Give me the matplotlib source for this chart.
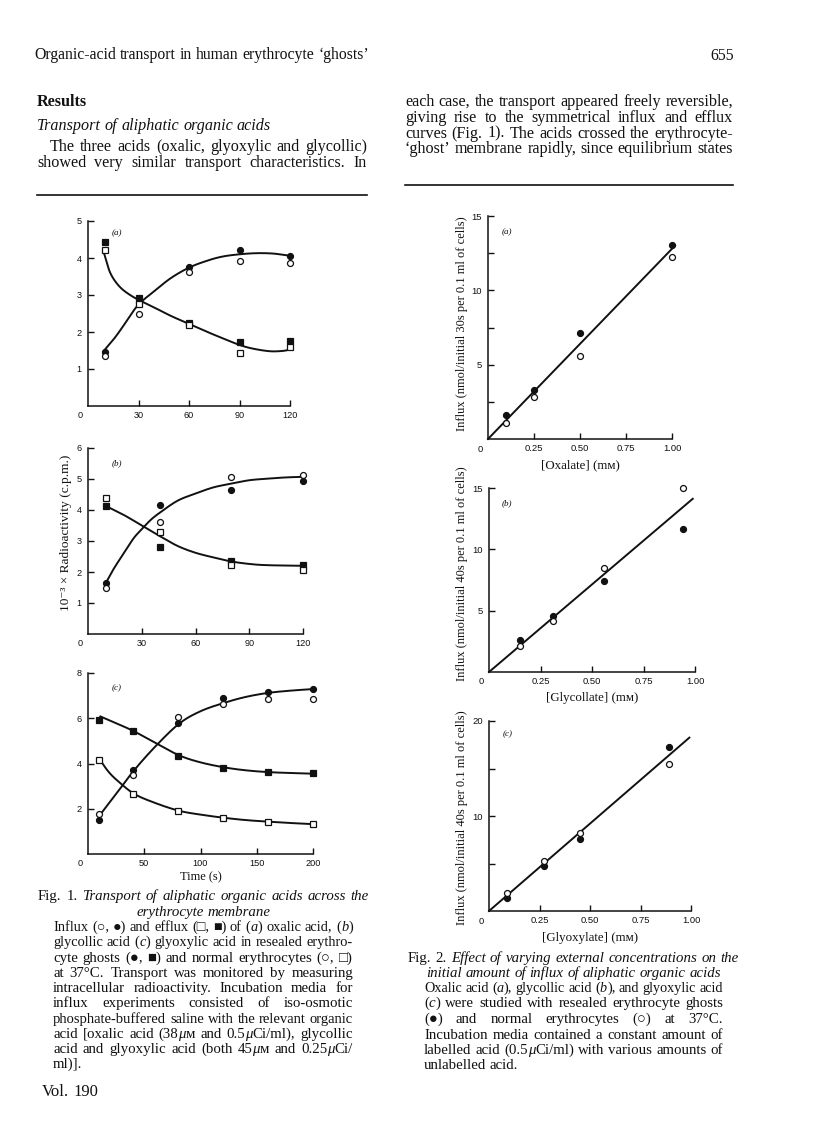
import math
import matplotlib
matplotlib.use('Agg')
import matplotlib.pyplot as plt
import matplotlib.transforms as mtransforms
import numpy as np

# ---------------- data ----------------
# Fig. 1 (a) oxalic acid
f1a_t = [10, 30, 60, 90, 120]
f1a_in_ghost = [1.47, 2.78, 3.75, 4.22, 4.06]
f1a_in_norm = [1.34, 2.48, 3.61, 3.92, 3.87]
f1a_ef_ghost = [4.43, 2.92, 2.24, 1.72, 1.76]
f1a_ef_norm = [4.21, 2.75, 2.18, 1.43, 1.59]
f1a_cin_t = [9, 15, 20, 25, 29, 33, 39, 49, 60, 71, 80, 90, 100, 110, 120]
f1a_cin_v = [1.47, 1.79, 2.10, 2.44, 2.69, 2.87, 3.09, 3.45, 3.74, 3.93, 4.04, 4.10, 4.13, 4.12, 4.06]
f1a_cef_t = [9, 11, 13, 16, 20, 25, 30, 39, 49, 60, 71, 80, 90, 98, 108, 116, 120]
f1a_cef_v = [4.21, 3.90, 3.62, 3.38, 3.17, 3.00, 2.87, 2.67, 2.44, 2.22, 2.00, 1.83, 1.65, 1.55, 1.48, 1.49, 1.53]

# Fig. 1 (b) glycollic acid
f1b_t = [10, 40, 80, 120]
f1b_in_ghost = [1.65, 4.16, 4.64, 4.93]
f1b_in_norm = [1.50, 3.60, 5.07, 5.12]
f1b_ef_ghost = [4.13, 2.80, 2.36, 2.23]
f1b_ef_norm = [4.40, 3.29, 2.21, 2.07]
f1b_cin_t = [10, 14, 20, 25.5, 30, 35, 40, 50, 60, 70, 80, 90, 100, 110, 120]
f1b_cin_v = [1.65, 2.07, 2.61, 3.09, 3.38, 3.68, 3.91, 4.30, 4.53, 4.73, 4.85, 4.96, 5.01, 5.05, 5.07]
f1b_cef_t = [10, 20, 30, 40, 50, 60, 70, 80, 90, 100, 120]
f1b_cef_v = [4.13, 3.84, 3.50, 3.16, 2.84, 2.62, 2.47, 2.34, 2.26, 2.22, 2.20]

# Fig. 1 (c) glyoxylic acid
f1c_t = [10, 40, 80, 120, 160, 200]
f1c_in_ghost = [1.50, 3.70, 5.78, 6.90, 7.16, 7.29]
f1c_in_norm = [1.75, 3.48, 6.06, 6.63, 6.87, 6.85]
f1c_ef_ghost = [5.91, 5.45, 4.32, 3.81, 3.62, 3.58]
f1c_ef_norm = [4.14, 2.63, 1.90, 1.60, 1.43, 1.32]
f1c_cin_t = [11, 26, 41, 60, 81, 100, 121, 140, 160, 180, 200]
f1c_cin_v = [1.75, 2.72, 3.70, 4.76, 5.76, 6.31, 6.68, 6.94, 7.12, 7.22, 7.29]
f1c_cefg_t = [11, 26, 41, 60, 81, 100, 121, 140, 160, 180, 200]
f1c_cefg_v = [6.08, 5.76, 5.42, 4.91, 4.36, 4.05, 3.83, 3.70, 3.62, 3.58, 3.55]
f1c_cefn_t = [11, 18, 26, 41, 60, 81, 100, 121, 140, 160, 180, 200]
f1c_cefn_v = [4.14, 3.65, 3.25, 2.66, 2.25, 1.91, 1.74, 1.60, 1.50, 1.43, 1.37, 1.32]

# Fig. 2 (a) oxalate
f2a_conc = [0.10, 0.25, 0.50, 1.00]
f2a_ghost = [1.63, 3.31, 7.16, 13.05]
f2a_norm = [1.07, 2.82, 5.55, 12.22]
f2a_fit_x = [0.0, 1.016]
f2a_fit_y = [0.0, 13.0]
# Fig. 2 (b) glycollate
f2b_conc = [0.15, 0.31, 0.56, 0.94]
f2b_ghost = [2.61, 4.58, 7.44, 11.62]
f2b_norm = [2.13, 4.12, 8.46, 14.99]
f2b_fit_x = [0.0, 0.989]
f2b_fit_y = [0.0, 14.12]
# Fig. 2 (c) glyoxylate
f2c_conc = [0.09, 0.27, 0.45, 0.89]
f2c_ghost = [1.33, 4.72, 7.62, 17.31]
f2c_norm = [1.92, 5.28, 8.22, 15.52]
f2c_fit_x = [0.0, 0.992]
f2c_fit_y = [0.0, 18.25]

# ---------------- figure ----------------
W, H = 816, 1136
fig = plt.figure(figsize=(W / 100, H / 100), dpi=100)
fig.patch.set_facecolor('white')
R = fig.canvas.get_renderer()

SERIF = ['Liberation Serif', 'DejaVu Serif']
SANS = ['Liberation Sans', 'DejaVu Sans']
INK = '#111111'


def px(x, y):
    return x / W, 1 - y / H


def parse(line):
    words, cur, buf = [], [], ''
    it = bd = False
    for ch in line:
        if ch in '*#' or ch == ' ':
            if buf:
                cur.append((buf, it, bd))
                buf = ''
            if ch == '*':
                it = not it
            elif ch == '#':
                bd = not bd
            else:
                if cur:
                    words.append(cur)
                    cur = []
        else:
            buf += ch
    if buf:
        cur.append((buf, it, bd))
    if cur:
        words.append(cur)
    return words


def mk(s, size, it, bd, x=0, y=0, **kw):
    return fig.text(x, y, s, fontsize=size, family=SERIF,
                    style='italic' if it else 'normal',
                    weight='bold' if bd else 'normal', color=INK, **kw)


def width(s, size, it=False, bd=False):
    t = mk(s, size, it, bd)
    w = t.get_window_extent(renderer=R).width
    t.remove()
    return w


def place(s, size, it, bd, x, base_top):
    """put a text segment with its baseline on an integer pixel row"""
    t = mk(s, size, it, bd, va='baseline', ha='left')
    _, _, d = R.get_text_width_height_descent(s, t.get_fontproperties(), ismath=False)
    frac = d - math.floor(d)
    Y = round(base_top)
    t.set_position((x / W, (H - (Y - frac)) / H))
    return t


def natural_width(text, size):
    words = parse(text)
    ww = [sum(width(s, size, i, b) for s, i, b in w) for w in words]
    sp = width('n n', size) - width('nn', size)
    return sum(ww) + sp * (len(words) - 1)


def line(text, x0, x1, y, size, mode='justify'):
    words = parse(text)
    if mode == 'fit':
        size = size * (x1 - x0) / natural_width(text, size)
        mode = 'left'
    elif mode == 'justify':
        nat = natural_width(text, size)
        if nat > (x1 - x0) * 0.995:
            size = size * (x1 - x0) * 0.995 / nat
    ww = [sum(width(s, size, i, b) for s, i, b in w) for w in words]
    sp = width('n n', size) - width('nn', size)
    natural = sum(ww) + sp * (len(words) - 1)
    if mode == 'justify' and len(words) > 1:
        gap = (x1 - x0 - sum(ww)) / (len(words) - 1)
        start = x0
    else:
        gap = sp
        if mode == 'left':
            start = x0
        elif mode == 'right':
            start = x1 - natural
        else:
            start = (x0 + x1) / 2 - natural / 2
    base = y + 0.30 * size * 100 / 72
    x = start
    for w, wdt in zip(words, ww):
        xx = x
        for s, i, b in w:
            place(s, size, i, b, xx, base)
            xx += width(s, size, i, b)
        x += wdt + gap
    return size


def para_size(items, q=35, slack=0.985):
    sizes = [10 * (x1 - x0) / natural_width(t, 10) for t, x0, x1 in items]
    return float(np.percentile(sizes, q)) * slack


def rule(x0, x1, y, lw=1.2):
    fig.add_artist(plt.Line2D([x0 / W, x1 / W], [1 - y / H, 1 - y / H],
                              transform=fig.transFigure, color=INK, lw=lw))


def smooth(xs, ys, n=16):
    P = np.column_stack([np.asarray(xs, float), np.asarray(ys, float)])
    P = np.vstack([2 * P[0] - P[1], P, 2 * P[-1] - P[-2]])
    out = []
    t = np.linspace(0, 1, n, endpoint=False)[:, None]
    for i in range(1, len(P) - 2):
        p0, p1, p2, p3 = P[i - 1], P[i], P[i + 1], P[i + 2]
        out.append(0.5 * (2 * p1 + (-p0 + p2) * t + (2 * p0 - 5 * p1 + 4 * p2 - p3) * t ** 2
                          + (-p0 + 3 * p1 - 3 * p2 + p3) * t ** 3))
    out.append(P[-2][None, :])
    S = np.vstack(out)
    return S[:, 0], S[:, 1]


def mk_axes(L, Rr, T, B, xlim, ylim, xt, xl, yt, yl, ts):
    ax = fig.add_axes([L / W, 1 - B / H, (Rr - L) / W, (B - T) / H])
    ax.set_xlim(xlim)
    ax.set_ylim(ylim)
    ax.patch.set_alpha(0)
    for s in ['top', 'right']:
        ax.spines[s].set_visible(False)
    for s in ['left', 'bottom']:
        ax.spines[s].set_linewidth(1.1)
        ax.spines[s].set_color(INK)
    ax.set_xticks(xt)
    ax.set_xticklabels(xl)
    ax.set_yticks(yt)
    ax.set_yticklabels(yl)
    ax.tick_params(direction='in', length=4, width=1.0, labelsize=ts, colors=INK)
    ax.tick_params(axis='x', pad=3.5)
    ax.tick_params(axis='y', pad=4.5)
    for lab in ax.get_xticklabels() + ax.get_yticklabels():
        lab.set_family(SANS)
    tr = mtransforms.offset_copy(ax.transAxes, fig=fig, x=-8, y=-10, units='dots')
    ax.text(0, 0, '0', transform=tr, ha='center', va='center', fontsize=ts,
            family=SANS, color=INK)
    return ax


def pts(ax, x, y, marker, filled, ms):
    ax.plot(x, y, ls='none', marker=marker, ms=ms, mec=INK, mew=0.9,
            mfc=INK if filled else 'white', clip_on=False, zorder=5)


def curve(ax, t, v):
    sx, sy = smooth(t, v)
    ax.plot(sx, sy, color=INK, lw=1.4, clip_on=False, zorder=3)


TS1 = 6.6
MC, MS = 4.3, 3.9

# Fig 1 (a)
ax = mk_axes(88, 290, 221, 406, (0, 120), (0, 5), [30, 60, 90, 120],
             ['30', '60', '90', '120'], [1, 2, 3, 4, 5], ['1', '2', '3', '4', '5'], TS1)
curve(ax, f1a_cin_t, f1a_cin_v)
curve(ax, f1a_cef_t, f1a_cef_v)
pts(ax, f1a_t, f1a_in_ghost, 'o', True, MC)
pts(ax, f1a_t, f1a_in_norm, 'o', False, MC)
pts(ax, f1a_t, f1a_ef_ghost, 's', True, MS)
pts(ax, f1a_t, f1a_ef_norm, 's', False, MS)

# Fig 1 (b)
ax = mk_axes(88, 303, 448, 634, (0, 120), (0, 6), [30, 60, 90, 120],
             ['30', '60', '90', '120'], [1, 2, 3, 4, 5, 6], ['1', '2', '3', '4', '5', '6'], TS1)
curve(ax, f1b_cin_t, f1b_cin_v)
curve(ax, f1b_cef_t, f1b_cef_v)
pts(ax, f1b_t, f1b_in_ghost, 'o', True, MC)
pts(ax, f1b_t, f1b_in_norm, 'o', False, MC)
pts(ax, f1b_t, f1b_ef_ghost, 's', True, MS)
pts(ax, f1b_t, f1b_ef_norm, 's', False, MS)

# Fig 1 (c)
ax = mk_axes(88, 313, 673, 854, (0, 200), (0, 8), [50, 100, 150, 200],
             ['50', '100', '150', '200'], [2, 4, 6, 8], ['2', '4', '6', '8'], TS1)
curve(ax, f1c_cin_t, f1c_cin_v)
curve(ax, f1c_cefg_t, f1c_cefg_v)
curve(ax, f1c_cefn_t, f1c_cefn_v)
pts(ax, f1c_t, f1c_in_ghost, 'o', True, MC)
pts(ax, f1c_t, f1c_in_norm, 'o', False, MC)
pts(ax, f1c_t, f1c_ef_ghost, 's', True, MS)
pts(ax, f1c_t, f1c_ef_norm, 's', False, MS)

TS2 = 6.8
xt2 = [0.25, 0.5, 0.75, 1.0]
xl2 = ['0.25', '0.50', '0.75', '1.00']
# Fig 2 (a)
ax = mk_axes(488, 672, 216, 439, (0, 1.0), (0, 15), xt2, xl2,
             [2.5, 5, 7.5, 10, 12.5, 15], ['', '5', '', '10', '', '15'], TS2)
ax.plot(f2a_fit_x, f2a_fit_y, color=INK, lw=1.4, clip_on=False)
pts(ax, f2a_conc, f2a_ghost, 'o', True, MC)
pts(ax, f2a_conc, f2a_norm, 'o', False, MC)
# Fig 2 (b)
ax = mk_axes(489, 695, 488, 672, (0, 1.0), (0, 15), xt2, xl2,
             [5, 10, 15], ['5', '10', '15'], TS2)
ax.plot(f2b_fit_x, f2b_fit_y, color=INK, lw=1.4, clip_on=False)
pts(ax, f2b_conc, f2b_ghost, 'o', True, MC)
pts(ax, f2b_conc, f2b_norm, 'o', False, MC)
# Fig 2 (c)
ax = mk_axes(489, 691, 721, 911, (0, 1.0), (0, 20), xt2, xl2,
             [5, 10, 15, 20], ['', '10', '', '20'], TS2)
ax.plot(f2c_fit_x, f2c_fit_y, color=INK, lw=1.4, clip_on=False)
pts(ax, f2c_conc, f2c_ghost, 'o', True, MC)
pts(ax, f2c_conc, f2c_norm, 'o', False, MC)

# panel letters
for lab, (x, y) in [('(a)', (117, 233)), ('(b)', (117, 463)), ('(c)', (117, 688)),
                    ('(a)', (507, 232)), ('(b)', (507, 503)), ('(c)', (508, 734))]:
    fig.text(*px(x, y), lab, fontsize=6.5, style='italic', family=SERIF,
             ha='center', va='center', color=INK)


# axis titles
def fitted_size(s, target, base=10):
    return base * target / width(s, base)


ylab1 = '10⁻³ × Radioactivity (c.p.m.)'
fig.text(*px(66, 533), ylab1, rotation=90, fontsize=fitted_size(ylab1, 157),
         family=SERIF, ha='center', va='center', color=INK)
yl2 = ['Influx (nmol/initial 30s per 0.1 ml of cells)',
       'Influx (nmol/initial 40s per 0.1 ml of cells)',
       'Influx (nmol/initial 40s per 0.1 ml of cells)']
ysz = fitted_size(yl2[0], 214)
for s, yc in zip(yl2, [324, 574, 818]):
    fig.text(*px(462, yc), s, rotation=90, fontsize=ysz, family=SERIF,
             ha='center', va='center', color=INK)
xsz = fitted_size('[Oxalate] (mᴍ)', 79)
for s, xc, yc in [('[Oxalate] (mᴍ)', 580, 465), ('[Glycollate] (mᴍ)', 592, 698),
                  ('[Glyoxylate] (mᴍ)', 590, 938)]:
    fig.text(*px(xc, yc), s, fontsize=xsz, family=SERIF, ha='center', va='center', color=INK)
fig.text(*px(201, 877), 'Time (s)', fontsize=fitted_size('Time (s)', 42), family=SERIF,
         ha='center', va='center', color=INK)

# ---------------- running text ----------------
head_sz = line('Organic-acid transport in human erythrocyte ‘ghosts’', 34, 371, 54, 10, mode='fit')
line('655', 650, 734, 55, head_sz, mode='right')

left_lines = [('The three acids (oxalic, glyoxylic and glycollic)', 50, 367, 146),
              ('showed very similar transport characteristics. In', 37, 367, 162)]
right_lines = [('each case, the transport appeared freely reversible,', 405, 733, 101),
               ('giving rise to the symmetrical influx and efflux', 405, 733, 117),
               ('curves (Fig. 1). The acids crossed the erythrocyte-', 405, 733, 133),
               ('‘ghost’ membrane rapidly, since equilibrium states', 405, 733, 148)]
BODY = para_size([(t, a, b) for t, a, b, _ in left_lines + right_lines], q=50)
line('#Results#', 37, 367, 101, BODY, mode='left')
line('*Transport of aliphatic organic acids*', 37, 367, 125, BODY, mode='left')
for t, a, b, yy in left_lines + right_lines:
    line(t, a, b, yy, BODY)
rule(37, 367, 195)
rule(405, 733, 185)

# Fig. 1 caption
title1 = [('Fig. 1. *Transport of aliphatic organic acids across the*', 38, 369)]
cap1 = ['Influx (○, ●) and efflux (□, ■) of (*a*) oxalic acid, (*b*)',
        'glycollic acid (*c*) glyoxylic acid in resealed erythro-',
        'cyte ghosts (●, ■) and normal erythrocytes (○, □)',
        'at 37°C. Transport was monitored by measuring',
        'intracellular radioactivity. Incubation media for',
        'influx experiments consisted of iso-osmotic',
        'phosphate-buffered saline with the relevant organic',
        'acid [oxalic acid (38*μ*ᴍ and 0.5*μ*Ci/ml), glycollic',
        'acid and glyoxylic acid (both 45*μ*ᴍ and 0.25*μ*Ci/',
        'ml)].']
ys1 = [927, 942, 958, 973, 988, 1003, 1019, 1034, 1049, 1064]
# Fig. 2 caption
title2 = [('Fig. 2. *Effect of varying external concentrations on the*', 408, 739)]
cap2 = ['Oxalic acid (*a*), glycollic acid (*b*), and glyoxylic acid',
        '(*c*) were studied with resealed erythrocyte ghosts',
        '(●) and normal erythrocytes (○) at 37°C.',
        'Incubation media contained a constant amount of',
        'labelled acid (0.5*μ*Ci/ml) with various amounts of',
        'unlabelled acid.']
ys2 = [988, 1003, 1019, 1035, 1050, 1065]

TSZ = para_size(title1 + title2, q=0, slack=0.99)
CAP = para_size([(t, 53, 353) for t in cap1[:-1]] + [(t, 424, 723) for t in cap2[:-1]], q=40)

line(title1[0][0], 38, 369, 896, TSZ)
line('*erythrocyte membrane*', 38, 369, 912, TSZ, mode='center')
for i, (txt, yy) in enumerate(zip(cap1, ys1)):
    line(txt, 53, 353, yy, CAP, mode='left' if i == len(cap1) - 1 else 'justify')
line('Vol. 190', 42, 200, 1091, head_sz * 1.05, mode='left')

line(title2[0][0], 408, 739, 958, TSZ)
line('*initial amount of influx of aliphatic organic acids*', 408, 739, 973, TSZ,
     mode='center')
for i, (txt, yy) in enumerate(zip(cap2, ys2)):
    line(txt, 424, 723, yy, CAP, mode='left' if i == len(cap2) - 1 else 'justify')

fig.savefig('out.png', dpi=100, facecolor='white')
